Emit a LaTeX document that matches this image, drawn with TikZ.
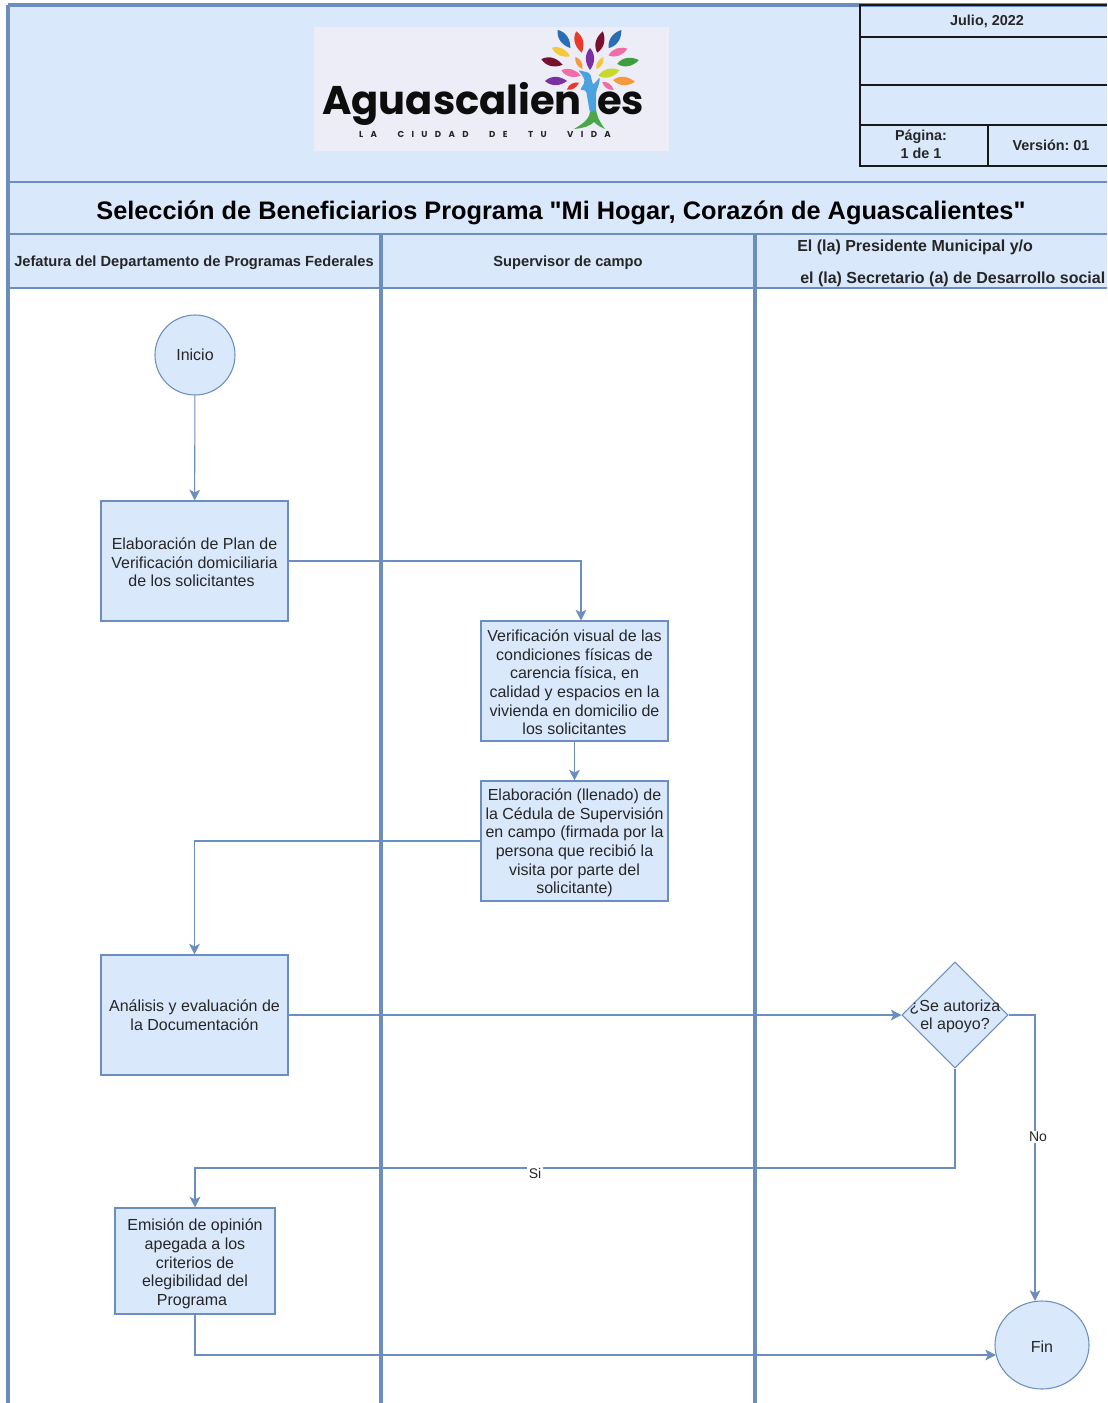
\documentclass[tikz,border=0pt]{standalone}
\usepackage{fontspec}
\setmainfont{Liberation Sans}
\newfontfamily\plainfont{Liberation Sans}
\newfontfamily\logofont{Poppins}
\newfontfamily\logoletter[LetterSpace=85]{Poppins}
\usetikzlibrary{shapes.geometric,arrows.meta}
\AtBeginDocument{\frenchspacing}
\definecolor{bluefill}{HTML}{DAE8FC}
\definecolor{blueline}{HTML}{6C8EBF}
\definecolor{logobg}{HTML}{ECEDF6}
\definecolor{leafblue}{HTML}{2A6DB5}
\definecolor{leafred}{HTML}{E8392B}
\definecolor{leafwine}{HTML}{7A1030}
\definecolor{leafyellow}{HTML}{F5C93C}
\definecolor{leafpink}{HTML}{F26CA7}
\definecolor{leafgreen}{HTML}{3F9E3F}
\definecolor{leaforange}{HTML}{F59A3C}
\definecolor{leafpurple}{HTML}{7B2FA0}
\definecolor{leaflime}{HTML}{C8D92B}
\definecolor{trunkblue}{HTML}{4AA3DF}
\definecolor{trunkgreen}{HTML}{4AA84A}
\newcommand{\leafshape}[5]{%
  \fill[#5,shift={(#1,#2)},rotate=-#3] (-#4,0) .. controls (-#4*0.4,-#4*0.55) and (#4*0.4,-#4*0.45) .. (#4,0) .. controls (#4*0.4,#4*0.45) and (-#4*0.4,#4*0.55) .. (-#4,0) -- cycle;}
\newcommand{\topgap}[1]{\rule{0pt}{#1}}
\tikzset{
  x=0.75pt,y=-0.75pt,
  lane/.style={draw=blueline,line width=2.3pt},
  thinlane/.style={draw=blueline,line width=2.1pt},
  tbl/.style={draw=black!90,line width=1.8pt},
  flowbox/.style={draw=blueline,fill=bluefill,line width=0.8pt,rectangle,align=center,inner sep=0pt,font=\fontsize{12}{14}\selectfont,text=black!85},
  startnode/.style={draw=blueline,fill=bluefill,line width=0.8pt,ellipse,inner sep=0pt,font=\fontsize{12}{14}\selectfont,text=black!85},
  decision/.style={draw=blueline,fill=bluefill,line width=0.8pt,diamond,aspect=1,inner sep=0pt},
  decisiontext/.style={inner sep=0pt,align=center,font=\fontsize{12}{14}\selectfont,text=black!85},
  flow/.style={draw=blueline,line width=0.8pt,-{Stealth[length=8pt,width=8pt,inset=2pt]}},
  edgelabel/.style={fill=white,inner sep=1pt,font=\fontsize{10.5}{12}\selectfont,text=black!85},
  headtext/.style={font=\fontsize{11}{13}\selectfont\bfseries,text=black!85,inner sep=0pt},
  tabletext/.style={font=\fontsize{10.8}{13.5}\selectfont\bfseries,text=black!85,inner sep=0pt,align=center},
}
\begin{document}
\begin{tikzpicture}
\useasboundingbox (0,0) rectangle (1107,1403);
\clip (0,0) rectangle (1107,1403);
\fill[white] (0,0) rectangle (1107,1403);
% header
\fill[bluefill] (8,5) rectangle (1107,288);
\draw[lane] (8,5) -- (1107,5);
\draw[thinlane] (8,182) -- (1107,182);
\draw[thinlane] (8,234) -- (1107,234);
\draw[thinlane] (8,288) -- (1107,288);
\draw[lane] (8,5) -- (8,1403);
\draw[lane] (381,234) -- (381,1403);
\draw[lane] (755,234) -- (755,1403);
% logo
\fill[logobg] (314,27) rectangle (669,151);
\leafshape{564}{39}{55}{11}{leafblue}
\leafshape{579}{42}{75}{11}{leafred}
\leafshape{600}{42}{-75}{11}{leafwine}
\leafshape{615}{39}{-55}{11}{leafblue}
\leafshape{561}{52}{25}{10}{leafyellow}
\leafshape{618}{52}{-20}{10}{leafpink}
\leafshape{552}{62}{15}{11}{leafwine}
\leafshape{628}{62}{-10}{11}{leafgreen}
\leafshape{579}{63}{60}{7}{leaforange}
\leafshape{590}{59}{90}{11}{leafpurple}
\leafshape{600}{63}{-60}{7}{leafyellow}
\leafshape{571}{73}{15}{10}{leafpink}
\leafshape{609}{73}{-15}{11}{leaflime}
\leafshape{556}{81}{0}{11}{leafpurple}
\leafshape{624}{81}{5}{11}{leaforange}
\leafshape{573}{86}{-30}{7}{leafred}
\leafshape{608}{86}{35}{7}{leafpink}
\node[anchor=base west,inner sep=0pt,text=black!95] (logoa) at (322,114) {\logofont\bfseries\fontsize{30}{30}\selectfont Aguascalien};
\node[anchor=base west,inner sep=0pt,text=black!95] (logob) at (597,114) {\logofont\bfseries\fontsize{30}{30}\selectfont es};
\node[inner sep=0pt,text=black!85] (logoc) at (485,134) {\logoletter\bfseries\fontsize{6.5}{7}\selectfont LA\hspace{8.5pt} CIUDAD\hspace{8.5pt} DE\hspace{8.5pt} TU\hspace{8.5pt} VIDA};
\fill[trunkblue,rounded corners=1.5pt] (578,70) -- (590,73) -- (593,85) -- (600,77) -- (599,84) -- (596,92) -- (596,113) -- (590,113) -- (586,90) -- (580,90) -- (585,82) -- (583,76) -- cycle;
\fill[trunkgreen] (590,112) -- (596,110) .. controls (598,120) and (602,125) .. (605,129) .. controls (598,126) and (596,124) .. (594,122) .. controls (590,126) and (584,128) .. (574,129) .. controls (582,124) and (589,120) .. (590,112) -- cycle;
% info table
\draw[tbl] (1107,5) -- (860,5) -- (860,166) -- (1107,166);
\draw[tbl] (860,37) -- (1107,37);
\draw[tbl] (860,85) -- (1107,85);
\draw[tbl] (860,125) -- (1107,125);
\draw[tbl] (988,125) -- (988,166);
\node[tabletext] (fecha) at (987,21) {Julio, 2022};
\node[tabletext] (pagina) at (921,144.5) {Página:\\1 de 1};
\node[tabletext] (version) at (1051,145) {Versión: 01};
% titles
\node[inner sep=0pt,text=black,font=\plainfont\fontsize{19}{23}\selectfont\bfseries] (titulo) at (561,213) {Selección de Beneficiarios Programa "Mi Hogar, Corazón de Aguascalientes"};
\node[headtext] (lane1) at (194,263) {Jefatura del Departamento de Programas Federales};
\node[headtext] (lane2) at (568,263) {Supervisor de campo};
\node[headtext,font=\fontsize{12}{13}\selectfont\bfseries,anchor=base west] (lane3a) at (797,251) {El (la) Presidente Municipal y/o};
\node[headtext,font=\fontsize{12}{13}\selectfont\bfseries,anchor=base west] (lane3b) at (800,283) {el (la) Secretario (a) de Desarrollo social};
% flow nodes
\node[startnode,minimum width=60pt,minimum height=60pt] (inicio) at (195,355) {Inicio};
\node[flowbox,minimum width=140.25pt,minimum height=90pt] (plan) at (194.5,561) {\topgap{11pt}Elaboración de Plan de\\Verificación domiciliaria\\de los solicitantes\hspace*{4.5pt}};
\node[flowbox,minimum width=140.25pt,minimum height=90pt] (visual) at (574.5,681) {\topgap{11pt}Verificación visual de las\\condiciones físicas de\\carencia física, en\\calidad y espacios en la\\vivienda en domicilio de\\los solicitantes};
\node[flowbox,minimum width=140.25pt,minimum height=90pt] (cedula) at (574.5,841) {\topgap{11.8pt}Elaboración (llenado) de\\la Cédula de Supervisión\\en campo (firmada por la\\persona que recibió la\\visita por parte del\\solicitante)};
\node[flowbox,minimum width=140.25pt,minimum height=90pt] (analisis) at (194.5,1015) {Análisis y evaluación de\\la Documentación};
\node[decision,minimum width=79.5pt,minimum height=79.5pt] (dec) at (955,1015) {};
\node[decisiontext] (dectext) at (955,1016.5) {¿Se autoriza\\el apoyo?};
\node[flowbox,minimum width=120pt,minimum height=79.5pt] (opinion) at (195,1261) {\topgap{13.3pt}Emisión de opinión\\apegada a los\\criterios de\\elegibilidad del\\Programa\hspace*{4.5pt}};
\node[startnode,minimum width=70.5pt,minimum height=66pt] (fin) at (1042,1345) {\topgap{10.5pt}Fin};
% free ends of connectors
\coordinate (visualin) at (581,620.5);
\coordinate (sibend) at (195,1168);
\coordinate (finno) at (1035,1301);
\coordinate (finsi) at (996,1355);
% connectors
\draw[flow] (inicio) -- (plan);
\draw[flow] (plan.east) -| (visualin);
\draw[flow] (visual.south) -- (cedula.north);
\draw[flow] (cedula.west) -| (analisis.north);
\draw[flow] (analisis.east) -- (dec.west);
\draw[flow] (dec.south) |- (sibend) -- (opinion.north);
\draw[flow] (dec.east) -| (finno);
\draw[flow] (opinion.south) |- (finsi);
\node[edgelabel] (si) at (535,1173) {Si};
\node[edgelabel] (no) at (1038,1137) {No};
\end{tikzpicture}
\end{document}
